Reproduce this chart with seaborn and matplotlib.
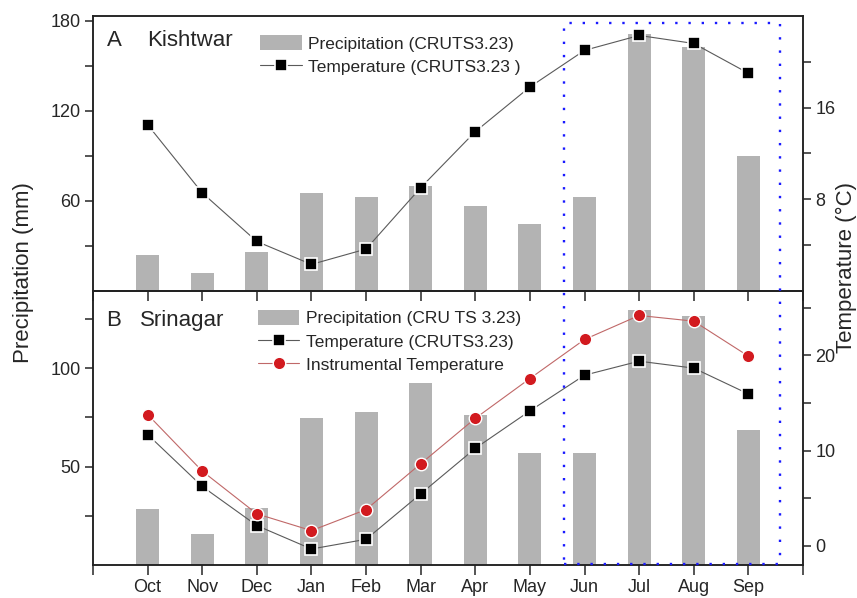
import numpy as np
import pandas as pd
import matplotlib
matplotlib.use("Agg")
import matplotlib.pyplot as plt
from matplotlib.patches import Patch, Rectangle
from matplotlib.lines import Line2D
import seaborn as sns

# ---------------- data ----------------
months = ['Oct', 'Nov', 'Dec', 'Jan', 'Feb', 'Mar', 'Apr', 'May', 'Jun', 'Jul', 'Aug', 'Sep']
kish_precip = [23.8, 11.6, 25.6, 64.9, 62.5, 70.0, 56.5, 44.5, 62.3, 171.0, 162.3, 90.0]
kish_temp = [14.5, 8.55, 4.3, 2.3, 3.64, 9.0, 13.9, 17.8, 21.0, 22.3, 21.6, 19.0]
srin_precip = [28.6, 15.6, 29.0, 74.6, 77.6, 92.4, 76.1, 57.1, 56.8, 129.3, 126.7, 68.6]
srin_temp_cru = [11.7, 6.25, 2.14, -0.32, 0.7, 5.47, 10.25, 14.18, 17.93, 19.4, 18.67, 15.96]
srin_temp_inst = [13.8, 7.86, 3.37, 1.61, 3.82, 8.63, 13.4, 17.58, 21.68, 24.2, 23.6, 19.93]

top_left_ticks = [30, 60, 90, 120, 150, 180]
top_left_labels = ['', '60', '', '120', '', '180']
top_right_ticks = [4, 8, 12, 16, 20]
top_right_labels = ['', '8', '', '16', '']
bot_left_ticks = [25, 50, 75, 100, 125]
bot_left_labels = ['', '50', '', '100', '']
bot_right_ticks = [0, 5, 10, 15, 20, 25]
bot_right_labels = ['0', '', '10', '', '20', '']

pos = np.arange(len(months))
df_k = pd.DataFrame({'pos': pos, 'precip': kish_precip, 'temp': kish_temp})
df_s = pd.DataFrame({'pos': pos, 'precip': srin_precip, 'cru': srin_temp_cru, 'inst': srin_temp_inst})

# ---------------- style ----------------
sns.set_style('ticks')
plt.rcParams['font.family'] = ['Liberation Sans', 'DejaVu Sans']
plt.rcParams['axes.linewidth'] = 1.1
plt.rcParams['axes.edgecolor'] = '#222222'

BAR = '#b3b3b3'
GLINE = '#5a5a5a'
RED = '#d21a1f'
RLINE = '#c06868'
FS = 13

fig = plt.figure(figsize=(8.57, 5.98), dpi=100)
L, W = 93 / 857, (803 - 93) / 857
ax_t = fig.add_axes([L, 1 - 290.7 / 598, W, (290.7 - 16) / 598])
ax_tr = ax_t.twinx()
ax_b = fig.add_axes([L, 1 - 565 / 598, W, (565 - 290.7) / 598])
ax_br = ax_b.twinx()
for a in (ax_t, ax_b):
    a.patch.set_visible(False)

sq_kw = dict(marker='s', markersize=8.5, markerfacecolor='black', markeredgecolor='white',
             markeredgewidth=1.2, color=GLINE, linewidth=0.8)
ci_kw = dict(marker='o', markersize=9, markerfacecolor=RED, markeredgecolor='white',
             markeredgewidth=1.0, color=RLINE, linewidth=0.8)

# ---------------- panel A ----------------
sns.barplot(data=df_k, x='pos', y='precip', native_scale=True, width=0.42,
            color=BAR, saturation=1, ax=ax_t, errorbar=None, edgecolor='none')
sns.lineplot(data=df_k, x='pos', y='temp', ax=ax_tr, legend=False, **sq_kw)
ax_t.set_ylim(0, 183)
ax_tr.set_ylim(0, 24)

# ---------------- panel B ----------------
sns.barplot(data=df_s, x='pos', y='precip', native_scale=True, width=0.42,
            color=BAR, saturation=1, ax=ax_b, errorbar=None, edgecolor='none')
sns.lineplot(data=df_s, x='pos', y='cru', ax=ax_br, legend=False, **sq_kw)
sns.lineplot(data=df_s, x='pos', y='inst', ax=ax_br, legend=False, **ci_kw)
ax_b.set_ylim(0, 139.3)
ax_br.set_ylim(-2, 26.8)

xt = list(range(-1, len(months) + 1))
xl = [''] + months + ['']
for a in (ax_t, ax_tr, ax_b, ax_br):
    a.set_xlim(-1, 12)
    a.set_xlabel('')
    a.set_ylabel('')
    for s in a.spines.values():
        s.set_visible(True)
        s.set_linewidth(1.1)

ax_t.set_xticks(xt)
ax_t.set_xticklabels([''] * len(xt))
ax_b.set_xticks(xt)
ax_b.set_xticklabels(xl)
ax_t.tick_params(axis='x', direction='out', length=7, width=1.1, labelbottom=False)
ax_b.tick_params(axis='x', direction='out', length=7, width=1.1, labelsize=FS, pad=3)

ax_t.set_yticks(top_left_ticks)
ax_t.set_yticklabels(top_left_labels)
ax_tr.set_yticks(top_right_ticks)
ax_tr.set_yticklabels(top_right_labels)
ax_b.set_yticks(bot_left_ticks)
ax_b.set_yticklabels(bot_left_labels)
ax_br.set_yticks(bot_right_ticks)
ax_br.set_yticklabels(bot_right_labels)
for a in (ax_t, ax_b, ax_tr, ax_br):
    a.tick_params(axis='y', direction='out', length=6, width=1.1, labelsize=FS, pad=3)

# panel labels
ax_t.text(107 / 857, 1 - 40 / 598, 'A', transform=fig.transFigure, fontsize=16, va='center', ha='left')
ax_t.text(147.5 / 857, 1 - 40 / 598, 'Kishtwar', transform=fig.transFigure, fontsize=16, va='center', ha='left')
ax_b.text(106 / 857, 1 - 320.5 / 598, 'B', transform=fig.transFigure, fontsize=16, va='center', ha='left')
ax_b.text(139.5 / 857, 1 - 320.5 / 598, 'Srinagar', transform=fig.transFigure, fontsize=16, va='center', ha='left')

# legends
sq_h = Line2D([], [], **sq_kw)
ci_h = Line2D([], [], **ci_kw)
leg_kw = dict(frameon=False, fontsize=12.5, loc='upper left', borderpad=0, borderaxespad=0,
              handlelength=2.4, handleheight=0.95, handletextpad=0.4, labelspacing=0.4)
ax_tr.legend([Patch(facecolor=BAR, edgecolor='none'), sq_h],
             ['Precipitation (CRUTS3.23)', 'Temperature (CRUTS3.23 )'],
             bbox_to_anchor=(0.235, 0.93), **leg_kw)
ax_br.legend([Patch(facecolor=BAR, edgecolor='none'), sq_h, ci_h],
             ['Precipitation (CRU TS 3.23)', 'Temperature (CRUTS3.23)', 'Instrumental Temperature'],
             bbox_to_anchor=(0.232, 0.93), **leg_kw)

# axis titles
fig.text(24 / 857, 1 - 273 / 598, 'Precipitation (mm)', rotation=90, fontsize=16, ha='center', va='center')
fig.text(846 / 857, 1 - 268 / 598, 'Temperature (°C)', rotation=90, fontsize=16, ha='center', va='center')

# dotted highlight box (Jun-Sep)
fig.patches.append(Rectangle((564 / 857, 1 - 564 / 598), 216 / 857, (564 - 23) / 598,
                             transform=fig.transFigure, fill=False, edgecolor='#1a1aff',
                             linewidth=1.7, linestyle=(0, (1, 4.6)), zorder=10))

fig.savefig('out.png', dpi=100, facecolor='white')
